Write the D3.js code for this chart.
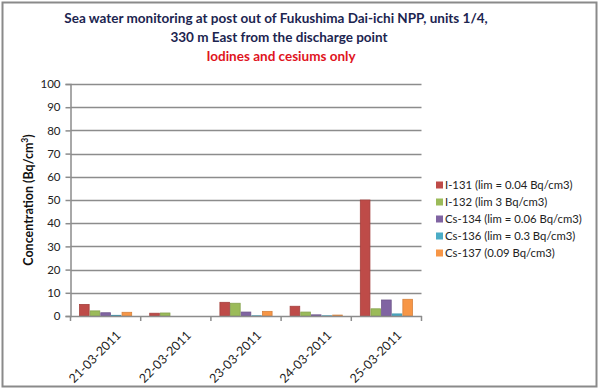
<!DOCTYPE html>
<html>
<head>
<meta charset="utf-8">
<script src="https://cdn.jsdelivr.net/npm/d3@7"></script>
<style>
  body { margin: 0; background: #fff; }
  text { font-family: Lato, "Open Sans", sans-serif; }
</style>
</head>
<body>
<svg id="chart"></svg>
<script>
const dates = ["21-03-2011", "22-03-2011", "23-03-2011", "24-03-2011", "25-03-2011"];
const seriesNames = ["I-131 (lim = 0.04 Bq/cm3)", "I-132 (lim 3 Bq/cm3)", "Cs-134 (lim = 0.06 Bq/cm3)", "Cs-136 (lim = 0.3 Bq/cm3)", "Cs-137 (0.09 Bq/cm3)"];
const colors = ["#be4b48", "#9bbb59", "#8064a2", "#4bacc6", "#f79646"];
const i131 = [5.0, 1.2, 5.9, 4.2, 50];
const i132 = [2.2, 1.3, 5.5, 1.7, 3.1];
const cs134 = [1.4, 0, 1.7, 0.5, 6.9];
const cs136 = [0.3, 0, 0.1, 0.1, 0.9];
const cs137 = [1.6, 0, 2.0, 0.4, 7.2];
const yTicks = d3.range(0, 101, 10);

const width = 600, height = 391;
const values = [i131, i132, cs134, cs136, cs137];

// svg
const svg = d3.select("#chart").attr("width", width).attr("height", height);

// outer frame
svg.append("rect")
   .attr("x", 2.5).attr("y", 2.5)
   .attr("width", 594).attr("height", 384)
   .attr("fill", "none").attr("stroke", "#8a8a8a").attr("stroke-width", 2);

// title
const title = svg.append("g").attr("text-anchor", "middle").attr("font-weight", "bold");
title.append("text").attr("x", 276).attr("y", 23).attr("font-size", 13.5).attr("fill", "#1c2550")
     .text("Sea water monitoring at post out of Fukushima Dai-ichi NPP, units 1/4,");
title.append("text").attr("x", 279).attr("y", 42).attr("font-size", 13.5).attr("fill", "#1c2550")
     .text("330 m East from the discharge point");
title.append("text").attr("x", 281).attr("y", 61).attr("font-size", 13.5).attr("fill", "#e0141e")
     .text("Iodines and cesiums only");

// scales
const x0 = d3.scaleBand().domain(dates).range([70.5, 421.5]);
const x1 = d3.scaleBand().domain(d3.range(5)).range([0, x0.bandwidth()]).paddingOuter(0.8);
const y = d3.scaleLinear().domain([0, 100]).range([316, 84]);

// grid
svg.append("g").selectAll("line").data(yTicks.slice(1)).enter().append("line")
   .attr("x1", 70.5).attr("x2", 421.5)
   .attr("y1", d => Math.round(y(d)) + 0.5).attr("y2", d => Math.round(y(d)) + 0.5)
   .attr("stroke", "#8c8c8c").attr("stroke-width", 1.5);

// bars
const groups = svg.append("g").selectAll("g").data(dates).enter().append("g")
   .attr("transform", d => `translate(${x0(d)},0)`);
groups.selectAll("rect")
   .data((d, i) => values.map((s, k) => ({ k: k, v: s[i] })))
   .enter().append("rect")
   .attr("x", d => x1(d.k) + 0.5)
   .attr("width", x1.bandwidth() - 1)
   .attr("y", d => y(d.v))
   .attr("height", d => y(0) - y(d.v))
   .attr("fill", d => colors[d.k])
   .attr("stroke", d => d3.color(colors[d.k]).darker(0.4))
   .attr("stroke-width", 0.8);

// y axis
const yAxis = svg.append("g").attr("transform", "translate(70.5,0)")
   .call(d3.axisLeft(y).tickValues(yTicks).tickSize(5).tickPadding(5));
yAxis.select(".domain").attr("stroke", "#8c8c8c").attr("stroke-width", 1.5);
yAxis.selectAll(".tick line").attr("stroke", "#8c8c8c").attr("stroke-width", 1.5);
yAxis.selectAll(".tick text").attr("font-size", 11.5).attr("fill", "#222")
     .style("font-family", "Lato, sans-serif");

// x axis
const xAxis = svg.append("g").attr("transform", "translate(0,316)")
   .call(d3.axisBottom(x0).tickSize(0).tickSizeOuter(0));
xAxis.select(".domain").attr("stroke", "#8c8c8c").attr("stroke-width", 1.5);
xAxis.selectAll(".tick text")
     .attr("font-size", 12.5).attr("fill", "#222")
     .style("font-family", "Lato, sans-serif")
     .attr("text-anchor", "end")
     .attr("transform", "translate(13,17) rotate(-45)")
     .attr("y", 0).attr("dy", "0.35em");
// boundary ticks
svg.append("g").selectAll("line").data(dates).enter().append("line")
   .attr("x1", d => x0(d) + x0.bandwidth()).attr("x2", d => x0(d) + x0.bandwidth())
   .attr("y1", 316).attr("y2", 321)
   .attr("stroke", "#8c8c8c").attr("stroke-width", 1.5);
svg.append("line").attr("x1", 70.5).attr("x2", 70.5).attr("y1", 316).attr("y2", 321)
   .attr("stroke", "#8c8c8c").attr("stroke-width", 1.5);

// y axis label
const yl = svg.append("text")
   .attr("transform", "translate(33,200) rotate(-90)")
   .attr("text-anchor", "middle").attr("font-size", 12.5).attr("font-weight", "bold").attr("fill", "#111");
yl.append("tspan").text("Concentration (Bq/cm");
yl.append("tspan").attr("dy", -5).attr("font-size", 8.5).text("3");
yl.append("tspan").attr("dy", 5).text(")");

// legend
const legend = svg.append("g").selectAll("g").data(seriesNames).enter().append("g")
   .attr("transform", (d, i) => `translate(436,${185 + i * 17})`);
legend.append("rect").attr("x", 0).attr("y", -3.5).attr("width", 7).attr("height", 7)
   .attr("fill", (d, i) => colors[i]);
legend.append("text").attr("x", 9).attr("y", 0).attr("dy", "0.35em")
   .attr("font-size", 11.3).attr("fill", "#222").text(d => d);
</script>
</body>
</html>
